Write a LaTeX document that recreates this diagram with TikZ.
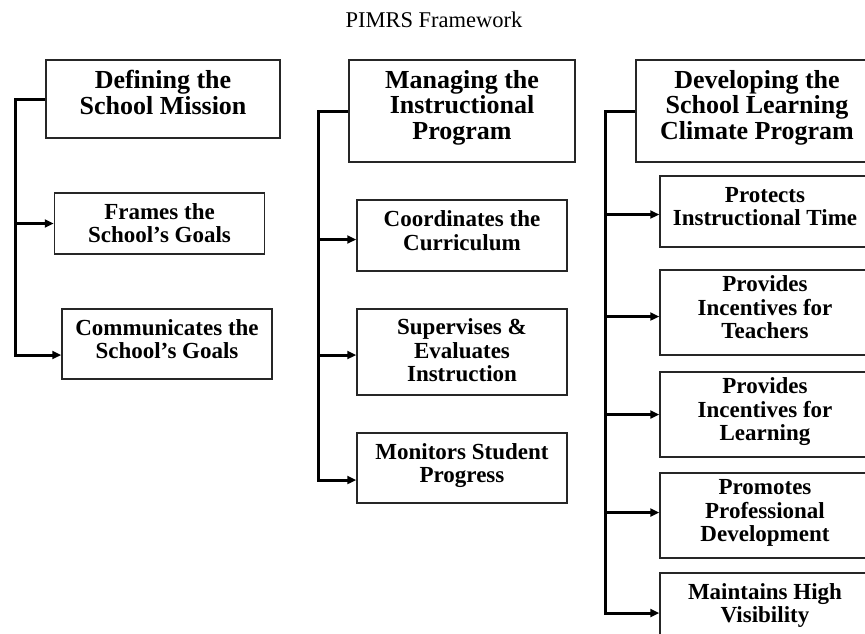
\documentclass[tikz,border=0pt]{standalone}
\usepackage{fontspec}
\setmainfont{Liberation Serif}
\usepackage{tikz}
\usetikzlibrary{arrows.meta,positioning,calc}

\begin{document}
\begin{tikzpicture}[
  x=1pt,y=-1pt,
  box/.style={draw=black!85,line width=1.5pt,align=center,inner sep=0pt,
              minimum width=210pt},
  head/.style={box,font=\fontsize{26}{25.5}\selectfont\bfseries,text depth=13pt},
  sub/.style={box,font=\fontsize{23}{23.5}\selectfont\bfseries,text depth=10pt},
  arr/.style={-{Triangle[length=9pt,width=8pt]},line width=3pt}
]
  \useasboundingbox (0,0) rectangle (865,634);
  \clip (0,0) rectangle (865,634);

  \node[font=\fontsize{22.5}{27}\selectfont,anchor=base] (title) at (434,28) {PIMRS Framework};

  % mission
  \node[head,minimum width=234pt,minimum height=78pt] (mission) at (163,99) {Defining the\\School Mission};
  \node[sub,minimum height=61pt,text depth=1pt] (frames) at (159.5,223.5) {Frames the\\School's Goals};
  \node[sub,minimum height=70pt] (comm) at (167,344) {Communicates the\\School's Goals};

  % instructional program
  \node[head,minimum width=226pt,minimum height=102pt] (instr) at (462,111) {Managing the\\Instructional\\Program};
  \node[sub,minimum height=71pt] (coord) at (462,235.5) {Coordinates the\\Curriculum};
  \node[sub,minimum height=86pt,text depth=3pt] (superv) at (462,352) {Supervises \&\\Evaluates\\Instruction};
  \node[sub,minimum height=70pt] (monitor) at (462,468) {Monitors Student\\Progress};

  % learning climate
  \node[head,minimum width=242pt,minimum height=102pt] (climate) at (757,111) {Developing the\\School Learning\\Climate Program};
  \node[sub,minimum height=71pt] (protects) at (765,211.5) {Protects\\Instructional Time};
  \node[sub,minimum height=85pt] (teachers) at (765,312.5) {Provides\\Incentives for\\Teachers};
  \node[sub,minimum height=85pt] (learning) at (765,414.5) {Provides\\Incentives for\\Learning};
  \node[sub,minimum height=85pt] (profdev) at (765,515.5) {Promotes\\Professional\\Development};
  \node[sub,minimum height=70pt] (visibility) at (765,608) {Maintains High\\Visibility};

  \coordinate (lt) at (15,0);
  \coordinate (mt) at (318,0);
  \coordinate (rt) at (605,0);

  \draw[arr] (mission.west) -| ($(lt |- comm.west)+(0,11)$) -- ($(comm.west)+(0,11)$);
  \draw[arr] (lt |- frames.west) -- (frames.west);

  \draw[arr] (instr.west) -| ($(mt |- monitor.west)+(0,12)$) -- ($(monitor.west)+(0,12)$);
  \draw[arr] ($(mt |- coord.west)+(0,4)$) -- ($(coord.west)+(0,4)$);
  \draw[arr] ($(mt |- superv.west)+(0,3)$) -- ($(superv.west)+(0,3)$);

  \draw[arr] (climate.west) -| ($(rt |- visibility.west)+(0,5)$) -- ($(visibility.west)+(0,5)$);
  \draw[arr] ($(rt |- protects.west)+(0,3)$) -- ($(protects.west)+(0,3)$);
  \draw[arr] ($(rt |- teachers.west)+(0,4)$) -- ($(teachers.west)+(0,4)$);
  \draw[arr] (rt |- learning.west) -- (learning.west);
  \draw[arr] ($(rt |- profdev.west)+(0,-3)$) -- ($(profdev.west)+(0,-3)$);
\end{tikzpicture}
\end{document}
